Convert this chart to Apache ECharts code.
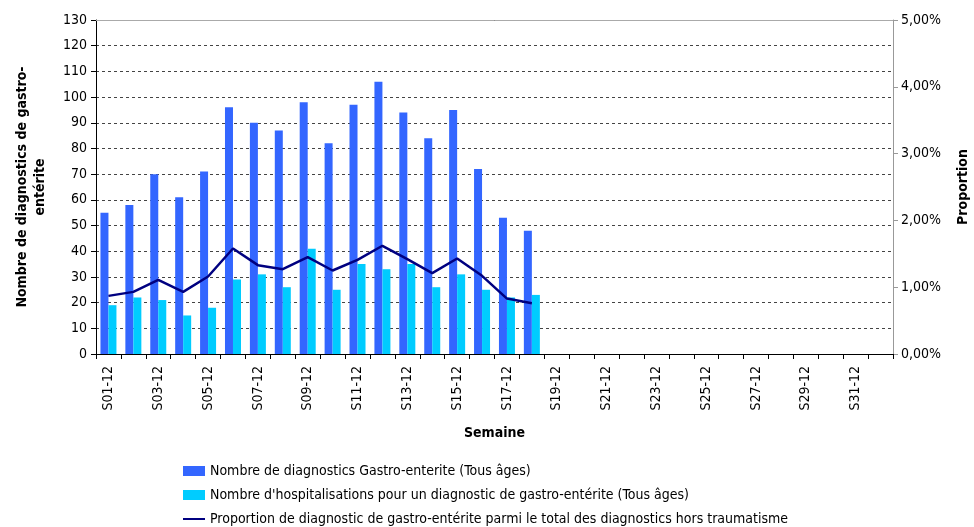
<!DOCTYPE html>
<html>
<head>
<meta charset="utf-8">
<script src="https://cdn.jsdelivr.net/npm/echarts@6/dist/echarts.min.js"></script>
<style>
  html, body { margin: 0; padding: 0; background: #fff; }
  #chart { width: 974px; height: 527px; }
</style>
</head>
<body>
<div id="chart"></div>
<script>
var weeks = [];
for (var i = 1; i <= 32; i++) {
  weeks.push('S' + (i < 10 ? '0' + i : i) + '-12');
}

var nbDiagnostics = [55, 58, 70, 61, 71, 96, 90, 87, 98, 82, 97, 106, 94, 84, 95, 72, 53, 48];
var nbHospit = [19, 22, 21, 15, 18, 29, 31, 26, 41, 25, 35, 33, 35, 26, 31, 25, 22, 23];
var proportion = [0.87, 0.93, 1.11, 0.93, 1.16, 1.58, 1.33, 1.27, 1.45, 1.25, 1.41, 1.62, 1.42, 1.21, 1.43, 1.17, 0.83, 0.76];

var nameDiag = 'Nombre de diagnostics Gastro-enterite (Tous âges)';
var nameHosp = "Nombre d'hospitalisations pour un diagnostic de gastro-entérite (Tous âges)";
var nameProp = 'Proportion de diagnostic de gastro-entérite parmi le total des diagnostics hors traumatisme';

var fontName = 'DejaVu Sans Condensed';

var chart = echarts.init(document.getElementById('chart'));

function legendAt(top, name, h) {
  return {
    orient: 'vertical',
    left: 183,
    top: top,
    padding: 0,
    itemWidth: 22,
    itemHeight: h,
    icon: 'rect',
    textStyle: { fontFamily: fontName, fontSize: 14, color: '#000' },
    data: [name]
  };
}

var option = {
  animation: false,
  textStyle: { fontFamily: fontName, color: '#000' },
  grid: { left: 96, right: 81, top: 20, bottom: 173, outerBoundsMode: 'none', containLabel: false },
  legend: [
    legendAt(464, nameDiag, 10),
    legendAt(488, nameHosp, 10),
    legendAt(512, nameProp, 2)
  ],
  xAxis: {
    type: 'category',
    data: weeks,
    name: 'Semaine',
    nameLocation: 'middle',
    nameGap: 72,
    nameTextStyle: { fontFamily: fontName, fontSize: 14, fontWeight: 'bold', color: '#000' },
    axisLine: { lineStyle: { color: '#000', width: 1 } },
    axisTick: { show: true, interval: 0, length: 5, lineStyle: { color: '#000' } },
    axisLabel: { interval: 1, rotate: 90, fontSize: 14, color: '#000', margin: 12 },
    splitLine: { show: false }
  },
  yAxis: [
    {
      type: 'value',
      min: 0,
      max: 130,
      interval: 10,
      name: 'Nombre de diagnostics de gastro-\nentérite',
      nameLocation: 'middle',
      nameRotate: 90,
      nameGap: 47,
      nameTextStyle: { fontFamily: fontName, fontSize: 14, fontWeight: 'bold', color: '#000', lineHeight: 18 },
      axisLine: { show: true, lineStyle: { color: '#000' } },
      axisTick: { show: true, length: 5, lineStyle: { color: '#000' } },
      axisLabel: { fontSize: 14, color: '#000', margin: 9 },
      splitLine: { show: true, lineStyle: { color: '#444', type: [3, 3], width: 1 } }
    },
    {
      type: 'value',
      min: 0,
      max: 5,
      interval: 1,
      name: 'Proportion',
      nameLocation: 'middle',
      nameRotate: 90,
      nameGap: 63,
      nameTextStyle: { fontFamily: fontName, fontSize: 14, fontWeight: 'bold', color: '#000' },
      axisLine: { show: true, lineStyle: { color: '#999' } },
      axisTick: { show: true, length: 5, lineStyle: { color: '#999' } },
      axisLabel: {
        fontSize: 14,
        color: '#000',
        margin: 8,
        formatter: function (v) { return v.toFixed(2).replace('.', ',') + '%'; }
      },
      splitLine: { show: false }
    }
  ],
  series: [
    {
      name: nameDiag,
      type: 'bar',
      data: nbDiagnostics,
      barWidth: 8,
      barGap: '0%',
      itemStyle: { color: '#3366FF' }
    },
    {
      name: nameHosp,
      type: 'bar',
      data: nbHospit,
      barWidth: 8,
      barGap: '0%',
      itemStyle: { color: '#00CCFF' }
    },
    {
      name: nameProp,
      type: 'line',
      yAxisIndex: 1,
      data: proportion,
      symbol: 'none',
      lineStyle: { color: '#000080', width: 2.5 },
      itemStyle: { color: '#000080' }
    }
  ],
  graphic: [
    {
      type: 'line',
      shape: { x1: 96, y1: 20.5, x2: 893, y2: 20.5 },
      style: { stroke: '#aaa', lineWidth: 1 },
      z: 5
    }
  ]
};

chart.setOption(option);
</script>
</body>
</html>
